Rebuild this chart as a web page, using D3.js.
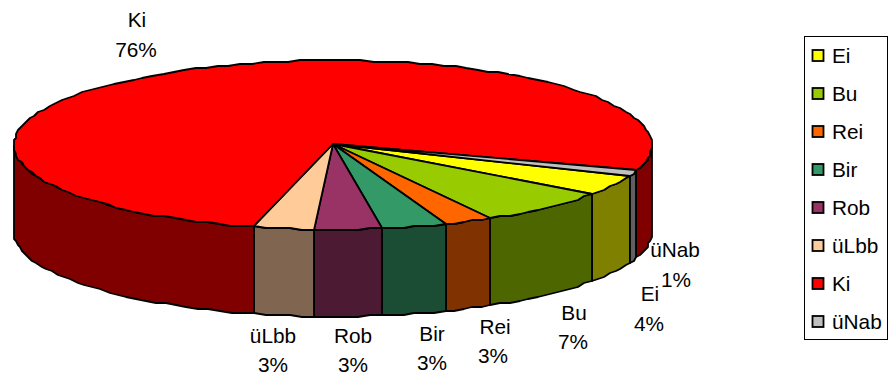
<!DOCTYPE html>
<html>
<head>
<meta charset="utf-8">
<style>
  html, body { margin: 0; padding: 0; background: #fff; }
  svg { display: block; }
  text { font-family: "Liberation Sans", Arial, sans-serif; font-size: 20.8px; fill: #000; }
</style>
<script src="https://cdnjs.cloudflare.com/ajax/libs/d3/7.8.5/d3.min.js"></script>
</head>
<body>
<svg id="chart" width="889" height="380"></svg>
<script>
// Share of each category, in percent, in legend order
const categories = ["Ei", "Bu", "Rei", "Bir", "Rob", "üLbb", "Ki", "üNab"];
const shares = [4.0, 6.8, 2.5, 3.3, 3.4, 3.0, 76.0, 1.0];
const topColors = ["#FFFF00", "#99CC00", "#FF6600", "#339966", "#993366", "#FFCC99", "#FF0000", "#C0C0C0"];
const wallColors = ["#808000", "#4D6600", "#803300", "#1A4D33", "#4D1A33", "#806650", "#800000", "#606060"];

// Label anchor for each category: [name x, name y, percent x, percent y]
const labelAnchors = [
  [650, 301, 649, 331], [574, 320, 573, 349], [495, 334, 493, 363], [432, 341, 432, 370],
  [353, 343, 353, 372], [273, 343, 273, 372], [137, 27, 136, 57], [675, 257, 676, 287]
];

const cx = 333, cy = 145, rx = 319, ry = 84.5, depth = 87;
const rad = Math.PI / 180;
const startAngle = 111.5 * rad;

const svg = d3.select("#chart");
const pieData = d3.pie().sort(null).startAngle(startAngle).endAngle(startAngle + 2 * Math.PI)(shares);

// The rim is drawn as short integer-snapped segments, which gives it a slightly stepped edge
const snap = v => Math.round(v / 2) * 2;
const rim = (a, dy) => [snap(cx + rx * Math.sin(a)), snap(cy - ry * Math.cos(a)) + dy];
const sampleArc = (a0, a1, dy) => {
  const n = Math.max(1, Math.ceil(Math.abs(a1 - a0) / (2.2 * rad)));
  return d3.range(n + 1).map(i => rim(a0 + (a1 - a0) * i / n, dy));
};
const line = d3.line();

// Visible front walls: parts of each slice between 3 o'clock and 9 o'clock
const frontRanges = [[Math.PI / 2, 1.5 * Math.PI], [2.5 * Math.PI, 3.5 * Math.PI]];
const walls = svg.append("g");
pieData.forEach((d, i) => {
  frontRanges.forEach(([lo, hi]) => {
    const a0 = Math.max(d.startAngle, lo), a1 = Math.min(d.endAngle, hi);
    if (a1 <= a0) return;
    const pts = sampleArc(a0, a1, 0).concat(sampleArc(a1, a0, depth));
    walls.append("path")
      .attr("d", line(pts) + "Z")
      .attr("fill", wallColors[i])
      .attr("stroke", "#000")
      .attr("stroke-width", 1.8)
      .attr("stroke-linejoin", "round");
  });
});

// Top face slices
const faces = svg.append("g");
pieData.forEach((d, i) => {
  const pts = [[cx, cy - 1]].concat(sampleArc(d.startAngle, d.endAngle, 0));
  faces.append("path")
    .attr("d", line(pts) + "Z")
    .attr("fill", topColors[i])
    .attr("stroke", "#000")
    .attr("stroke-width", 1.8)
    .attr("stroke-linejoin", "round");
});

// Data labels: category name over rounded percent
const labels = svg.append("g").attr("text-anchor", "middle");
categories.forEach((name, i) => {
  const [nx, ny, px, py] = labelAnchors[i];
  labels.append("text").attr("x", nx).attr("y", ny).text(name);
  labels.append("text").attr("x", px).attr("y", py).text(d3.format(".0f")(shares[i]) + "%");
});

// Legend box
const legendY = d3.scalePoint().domain(categories).range([56, 322]);
const legend = svg.append("g");
legend.append("rect")
  .attr("x", 804.5).attr("y", 36.5).attr("width", 83).attr("height", 303)
  .attr("fill", "#fff").attr("stroke", "#000").attr("stroke-width", 1);
categories.forEach((name, i) => {
  const y = legendY(name);
  legend.append("rect")
    .attr("x", 812.5).attr("y", y - 6).attr("width", 11).attr("height", 11)
    .attr("fill", topColors[i]).attr("stroke", "#000").attr("stroke-width", 1.8);
  legend.append("text").attr("x", 832).attr("y", y + 7).text(name);
});
</script>
</body>
</html>
